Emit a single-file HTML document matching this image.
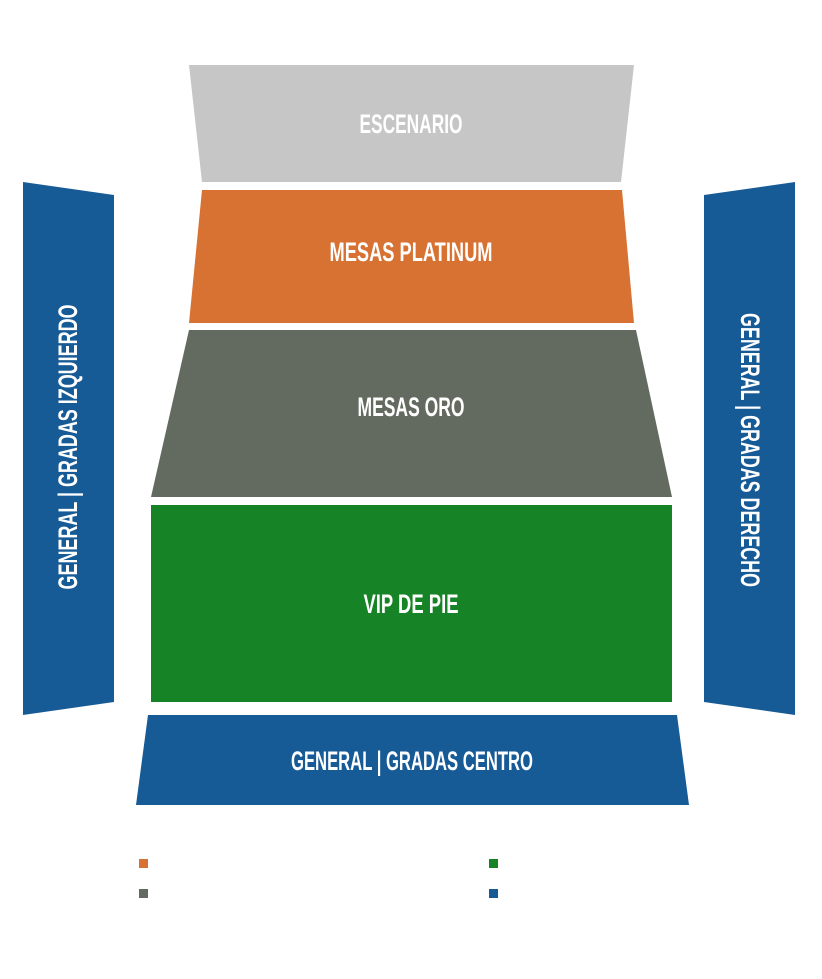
<!DOCTYPE html>
<html><head><style>body{margin:0;background:#fff}svg{display:block}</style></head><body>
<svg width="822" height="979" viewBox="0 0 822 979" xmlns="http://www.w3.org/2000/svg">
<g font-family="'Liberation Sans Narrow','Liberation Sans',sans-serif" font-weight="bold" font-size="27" fill="#fff" text-anchor="middle">
<polygon points="189,65 634,65 621,182 202,182" fill="#c6c6c6"/>
<polygon points="202,190 622,190 634,323 189,323" fill="#d77232"/>
<polygon points="189,330 636,330 672,497 151,497" fill="#636b61"/>
<rect x="151" y="505" width="521" height="197" fill="#168326"/>
<polygon points="148,715 677,715 689,805 136,805" fill="#165a96"/>
<polygon points="23,182 114,195 114,702 23,715" fill="#165a96"/>
<polygon points="704,195 795,182 795,715 704,702" fill="#165a96"/>
<rect x="139" y="859" width="9" height="9" fill="#d77232"/>
<rect x="139" y="889" width="9" height="9" fill="#636b61"/>
<rect x="489" y="859" width="9" height="9" fill="#168326"/>
<rect x="489" y="889" width="9" height="9" fill="#165a96"/>
<text x="411" y="133" textLength="103" lengthAdjust="spacingAndGlyphs">ESCENARIO</text>
<text x="411" y="261" textLength="163" lengthAdjust="spacingAndGlyphs">MESAS PLATINUM</text>
<text x="411" y="416" textLength="107" lengthAdjust="spacingAndGlyphs">MESAS ORO</text>
<text x="411" y="613" textLength="95" lengthAdjust="spacingAndGlyphs">VIP DE PIE</text>
<text x="412" y="770" textLength="242" lengthAdjust="spacingAndGlyphs">GENERAL | GRADAS CENTRO</text>
<text transform="translate(77,447) rotate(-90)" x="0" y="0" textLength="285" lengthAdjust="spacingAndGlyphs">GENERAL | GRADAS IZQUIERDO</text>
<text transform="translate(741,450) rotate(90)" x="0" y="0" textLength="274" lengthAdjust="spacingAndGlyphs">GENERAL | GRADAS DERECHO</text>
</g>
</svg>
</body></html>
